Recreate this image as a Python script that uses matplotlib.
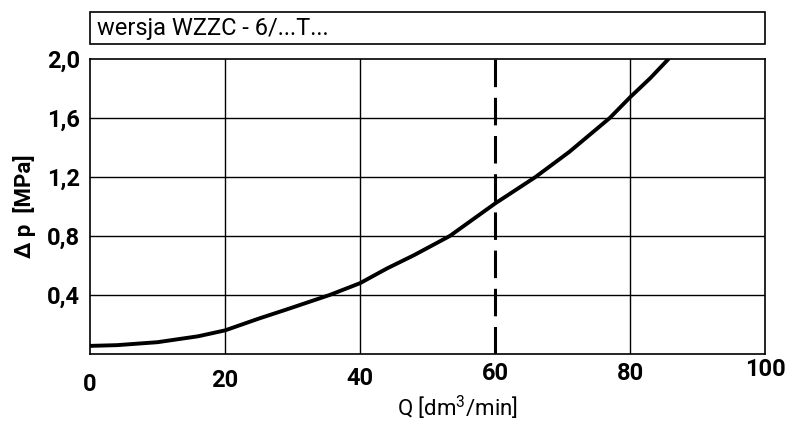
import matplotlib
import matplotlib.pyplot as plt
from matplotlib.patches import Rectangle
from matplotlib.transforms import ScaledTranslation

matplotlib.rcParams['figure.dpi'] = 100

FONT = ['Liberation Sans Narrow', 'Roboto', 'DejaVu Sans']
plt.rcParams['font.family'] = FONT
plt.rcParams['mathtext.default'] = 'regular'

# flow Q [dm3/min] vs pressure drop [MPa]
flow = [0, 4, 7, 10, 13, 16, 20, 25, 29, 35.5, 40, 44, 48, 53.3, 60, 66, 71, 77, 80, 83, 85.7]
dp = [0.055, 0.06, 0.07, 0.08, 0.10, 0.12, 0.16, 0.24, 0.30, 0.40, 0.48, 0.58, 0.67, 0.80,
      1.02, 1.20, 1.37, 1.60, 1.74, 1.87, 2.0]

x_ticks = [0, 20, 40, 60, 80, 100]
y_ticks = [0.4, 0.8, 1.2, 1.6, 2.0]
y_tick_labels = ['0,4', '0,8', '1,2', '1,6', '2,0']
x_label_drop = [9, 5, 3, -2, -2, -6]  # labels sit on a slight slant
rated_flow = 60
version = 'wersja WZZC - 6/...T...'

fig = plt.figure(figsize=(7.86, 4.21))
ax = fig.add_axes([90 / 786, 1 - 354 / 421, 675 / 786, 295 / 421])

# grid (60 is drawn dashed instead)
for q in x_ticks[1:-1]:
    if q != rated_flow:
        ax.axvline(q, color='black', lw=1.0, zorder=1)
for p in y_ticks[:-1]:
    ax.axhline(p, color='black', lw=1.0, zorder=1)
ax.axvline(rated_flow, color='black', lw=2.2, dashes=(9, 3.5), zorder=2)

ax.plot(flow, dp, color='black', lw=2.8, solid_capstyle='round', zorder=3)

ax.set_xlim(0, 100)
ax.set_ylim(0, 2.0)
ax.set_xticks(x_ticks)
ax.set_xticklabels([str(v) for v in x_ticks])
ax.set_yticks(y_ticks)
ax.set_yticklabels(y_tick_labels)
ax.tick_params(length=0, labelsize=17, pad=7)
for lbl in ax.get_xticklabels() + ax.get_yticklabels():
    lbl.set_fontweight('bold')
for lbl, dy in zip(ax.get_xticklabels(), x_label_drop):
    lbl.set_transform(lbl.get_transform() + ScaledTranslation(0, -dy / 100, fig.dpi_scale_trans))
for s in ax.spines.values():
    s.set_linewidth(1.2)

fig.text(457 / 786, 1 - 408 / 421, 'Q [dm$^{3}$/min]', ha='center', va='center', fontsize=16)
fig.text(25 / 786, 1 - 206 / 421, 'Δ p  [MPa]', ha='center', va='center', rotation=90,
         fontsize=16, fontweight='bold')

# version box above the chart
fig.patches.append(Rectangle((90 / 786, 1 - 44 / 421), 675 / 786, 32 / 421, transform=fig.transFigure,
                             fill=False, edgecolor='black', lw=1.2))
fig.text(97 / 786, 1 - 29 / 421, version, ha='left', va='center', fontsize=17)

fig.savefig('out.png', dpi=100)
